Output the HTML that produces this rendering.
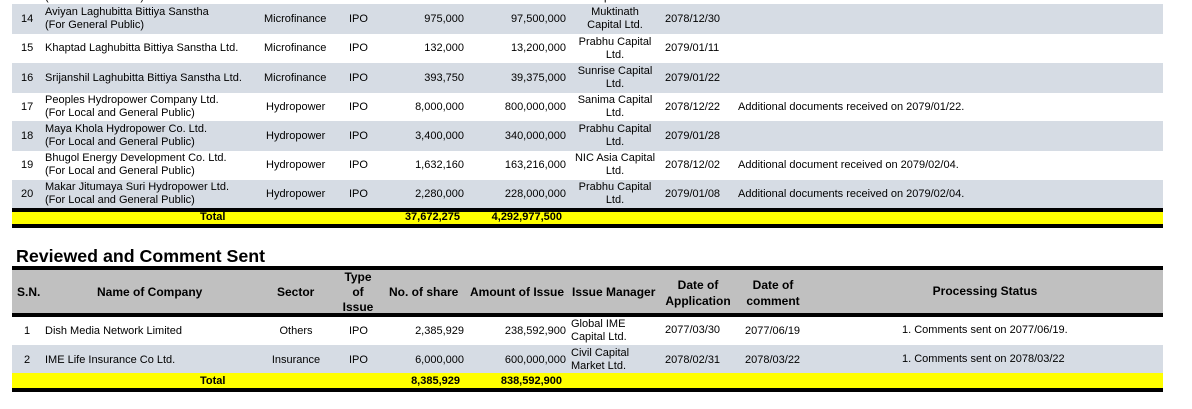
<!DOCTYPE html>
<html><head><meta charset="utf-8"><style>
body{margin:0;width:1192px;height:409px;background:#fff;position:relative;overflow:hidden;font-family:"Liberation Sans",Arial,sans-serif;font-size:11px;color:#000}
.a{position:absolute}
.g{background:#d6dce4}
.t{position:absolute;line-height:13px;white-space:nowrap}
.c{text-align:center}
.r{text-align:right}
.b{font-weight:bold}
</style></head><body>
<div class="a" style="left:0;top:0;width:1163px;height:4px;overflow:hidden"><div class="t" style="left:45px;top:-9px">(For General Public)</div><div class="t" style="left:278px;top:-9px">Tourism</div><div class="t" style="left:590px;top:-9px">Capital Ltd.</div></div>
<div class="a g" style="left:12px;top:4px;width:1151px;height:30px"></div>
<div class="a g" style="left:12px;top:63px;width:1151px;height:30px"></div>
<div class="a g" style="left:12px;top:121px;width:1151px;height:30px"></div>
<div class="a g" style="left:12px;top:180px;width:1151px;height:28px"></div>
<div class="a" style="left:12px;top:208px;width:1151px;height:4px;background:#000"></div>
<div class="a" style="left:12px;top:212px;width:1151px;height:12px;background:#ff0"></div>
<div class="a" style="left:12px;top:224px;width:1151px;height:4px;background:#000"></div>

<div class="t" style="left:21px;top:13px">14</div>
<div class="t" style="left:45px;top:6px">Aviyan Laghubitta Bittiya Sanstha<br>(For General Public)</div>
<div class="t" style="left:264px;top:13px">Microfinance</div>
<div class="t" style="left:349px;top:13px">IPO</div>
<div class="t r" style="left:380px;width:84px;top:13px">975,000</div>
<div class="t r" style="left:470px;width:96px;top:13px">97,500,000</div>
<div class="t c" style="left:570px;width:90px;top:6px">Muktinath<br>Capital Ltd.</div>
<div class="t" style="left:665px;top:13px">2078/12/30</div>

<div class="t" style="left:21px;top:42px">15</div>
<div class="t" style="left:45px;top:42px">Khaptad Laghubitta Bittiya Sanstha Ltd.</div>
<div class="t" style="left:264px;top:42px">Microfinance</div>
<div class="t" style="left:349px;top:42px">IPO</div>
<div class="t r" style="left:380px;width:84px;top:42px">132,000</div>
<div class="t r" style="left:470px;width:96px;top:42px">13,200,000</div>
<div class="t c" style="left:570px;width:90px;top:36px">Prabhu Capital<br>Ltd.</div>
<div class="t" style="left:665px;top:42px">2079/01/11</div>

<div class="t" style="left:21px;top:72px">16</div>
<div class="t" style="left:45px;top:72px">Srijanshil Laghubitta Bittiya Sanstha Ltd.</div>
<div class="t" style="left:264px;top:72px">Microfinance</div>
<div class="t" style="left:349px;top:72px">IPO</div>
<div class="t r" style="left:380px;width:84px;top:72px">393,750</div>
<div class="t r" style="left:470px;width:96px;top:72px">39,375,000</div>
<div class="t c" style="left:570px;width:90px;top:65px">Sunrise Capital<br>Ltd.</div>
<div class="t" style="left:665px;top:72px">2079/01/22</div>

<div class="t" style="left:21px;top:101px">17</div>
<div class="t" style="left:45px;top:94px">Peoples Hydropower Company Ltd.<br>(For Local and General Public)</div>
<div class="t" style="left:266px;top:101px">Hydropower</div>
<div class="t" style="left:349px;top:101px">IPO</div>
<div class="t r" style="left:380px;width:84px;top:101px">8,000,000</div>
<div class="t r" style="left:470px;width:96px;top:101px">800,000,000</div>
<div class="t c" style="left:570px;width:90px;top:94px">Sanima Capital<br>Ltd.</div>
<div class="t" style="left:665px;top:101px">2078/12/22</div>
<div class="t" style="left:738px;top:101px">Additional documents received on 2079/01/22.</div>

<div class="t" style="left:21px;top:130px">18</div>
<div class="t" style="left:45px;top:123px">Maya Khola Hydropower Co. Ltd.<br>(For Local and General Public)</div>
<div class="t" style="left:266px;top:130px">Hydropower</div>
<div class="t" style="left:349px;top:130px">IPO</div>
<div class="t r" style="left:380px;width:84px;top:130px">3,400,000</div>
<div class="t r" style="left:470px;width:96px;top:130px">340,000,000</div>
<div class="t c" style="left:570px;width:90px;top:123px">Prabhu Capital<br>Ltd.</div>
<div class="t" style="left:665px;top:130px">2079/01/28</div>

<div class="t" style="left:21px;top:159px">19</div>
<div class="t" style="left:45px;top:152px">Bhugol Energy Development Co. Ltd.<br>(For Local and General Public)</div>
<div class="t" style="left:266px;top:159px">Hydropower</div>
<div class="t" style="left:349px;top:159px">IPO</div>
<div class="t r" style="left:380px;width:84px;top:159px">1,632,160</div>
<div class="t r" style="left:470px;width:96px;top:159px">163,216,000</div>
<div class="t c" style="left:570px;width:90px;top:152px">NIC Asia Capital<br>Ltd.</div>
<div class="t" style="left:665px;top:159px">2078/12/02</div>
<div class="t" style="left:738px;top:159px">Additional document received on 2079/02/04.</div>

<div class="t" style="left:21px;top:188px">20</div>
<div class="t" style="left:45px;top:181px">Makar Jitumaya Suri Hydropower Ltd.<br>(For Local and General Public)</div>
<div class="t" style="left:266px;top:188px">Hydropower</div>
<div class="t" style="left:349px;top:188px">IPO</div>
<div class="t r" style="left:380px;width:84px;top:188px">2,280,000</div>
<div class="t r" style="left:470px;width:96px;top:188px">228,000,000</div>
<div class="t c" style="left:570px;width:90px;top:181px">Prabhu Capital<br>Ltd.</div>
<div class="t" style="left:665px;top:188px">2079/01/08</div>
<div class="t" style="left:738px;top:188px">Additional documents received on 2079/02/04.</div>

<div class="t b" style="left:200px;top:211px">Total</div>
<div class="t b r" style="left:380px;width:80px;top:211px">37,672,275</div>
<div class="t b r" style="left:470px;width:92px;top:211px">4,292,977,500</div>

<div class="t b" style="left:16px;top:246px;font-size:17.8px;line-height:20px;border-bottom:1px solid #000">Reviewed and Comment Sent</div>

<div class="a" style="left:12px;top:266px;width:1151px;height:4px;background:#000"></div>
<div class="a" style="left:12px;top:270px;width:1151px;height:43px;background:#c0c0c0"></div>
<div class="a" style="left:12px;top:313px;width:1151px;height:4px;background:#000"></div>
<div class="a g" style="left:12px;top:345px;width:1151px;height:28px"></div>
<div class="a" style="left:12px;top:373px;width:1151px;height:15px;background:#ff0"></div>
<div class="a" style="left:12px;top:388px;width:1151px;height:4px;background:#000"></div>

<div class="t b" style="left:17px;top:286px;font-size:12px">S.N.</div>
<div class="t b" style="left:97px;top:286px;font-size:12px">Name of Company</div>
<div class="t b" style="left:277px;top:286px;font-size:12px">Sector</div>
<div class="t b c" style="left:330px;width:56px;top:270px;font-size:12px;line-height:15px">Type<br>of<br>Issue</div>
<div class="t b" style="left:389px;top:286px;font-size:12px">No. of share</div>
<div class="t b" style="left:470px;top:286px;font-size:12px">Amount of Issue</div>
<div class="t b" style="left:572px;top:286px;font-size:12px">Issue Manager</div>
<div class="t b c" style="left:660px;width:76px;top:277px;font-size:12px;line-height:16px">Date of<br>Application</div>
<div class="t b c" style="left:740px;width:66px;top:277px;font-size:12px;line-height:16px">Date of<br>comment</div>
<div class="t b c" style="left:890px;width:190px;top:285px;font-size:12px">Processing Status</div>

<div class="t" style="left:24px;top:325px">1</div>
<div class="t" style="left:45px;top:325px">Dish Media Network Limited</div>
<div class="t c" style="left:261px;width:70px;top:325px">Others</div>
<div class="t" style="left:349px;top:325px">IPO</div>
<div class="t r" style="left:380px;width:84px;top:325px">2,385,929</div>
<div class="t r" style="left:470px;width:96px;top:325px">238,592,900</div>
<div class="t" style="left:571px;top:318px">Global IME<br>Capital Ltd.</div>
<div class="t" style="left:665px;top:324px">2077/03/30</div>
<div class="t" style="left:745px;top:325px">2077/06/19</div>
<div class="t" style="left:902px;top:324px">1. Comments sent on 2077/06/19.</div>

<div class="t" style="left:24px;top:354px">2</div>
<div class="t" style="left:45px;top:354px">IME Life Insurance Co Ltd.</div>
<div class="t c" style="left:261px;width:70px;top:354px">Insurance</div>
<div class="t" style="left:349px;top:354px">IPO</div>
<div class="t r" style="left:380px;width:84px;top:354px">6,000,000</div>
<div class="t r" style="left:470px;width:96px;top:354px">600,000,000</div>
<div class="t" style="left:571px;top:347px">Civil Capital<br>Market Ltd.</div>
<div class="t" style="left:665px;top:354px">2078/02/31</div>
<div class="t" style="left:745px;top:354px">2078/03/22</div>
<div class="t" style="left:902px;top:353px">1. Comments sent on 2078/03/22</div>

<div class="t b" style="left:200px;top:375px">Total</div>
<div class="t b r" style="left:380px;width:80px;top:375px">8,385,929</div>
<div class="t b r" style="left:470px;width:92px;top:375px">838,592,900</div>
</body></html>
